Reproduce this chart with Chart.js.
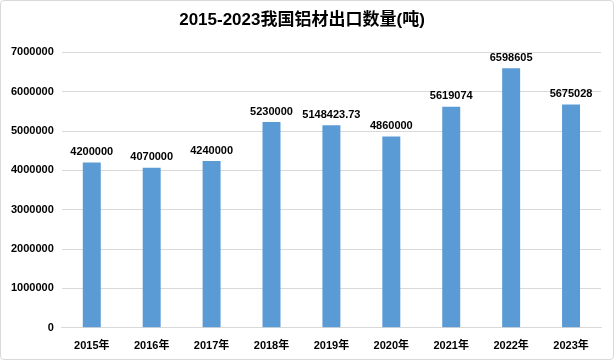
<!DOCTYPE html>
<html>
<head>
<meta charset="utf-8">
<script src="https://cdn.jsdelivr.net/npm/chart.js@4/dist/chart.umd.min.js"></script>
<style>
  html, body { margin: 0; padding: 0; background: #fff; }
  #wrap { position: relative; width: 612px; height: 358px; border: 1px solid #d9d9d9; border-radius: 4px; }
  canvas { display: block; }
</style>
</head>
<body>
<div id="wrap"><canvas id="chart" width="612" height="358"></canvas></div>
<script>
// Dados do gráfico
const anos = ['2015年', '2016年', '2017年', '2018年', '2019年', '2020年', '2021年', '2022年', '2023年'];
const exportacao = [4200000, 4070000, 4240000, 5230000, 5148423.73, 4860000, 5619074, 6598605, 5675028];
const rotulos = ['4200000', '4070000', '4240000', '5230000', '5148423.73', '4860000', '5619074', '6598605', '5675028'];

const fonte = "'Liberation Sans', 'Noto Sans CJK SC', sans-serif";

// rótulos acima das barras
const rotulosPlugin = {
  id: 'rotulos',
  afterDatasetsDraw(chart) {
    const ctx = chart.ctx;
    const meta = chart.getDatasetMeta(0);
    ctx.save();
    ctx.font = 'bold 11px ' + fonte;
    ctx.fillStyle = '#000';
    ctx.textAlign = 'center';
    ctx.textBaseline = 'bottom';
    meta.data.forEach((bar, i) => {
      ctx.fillText(rotulos[i], bar.x, bar.y - 5);
    });
    ctx.restore();
  }
};

new Chart(document.getElementById('chart'), {
  type: 'bar',
  data: {
    labels: anos,
    datasets: [{
      data: exportacao,
      backgroundColor: '#5b9bd5',
      barPercentage: 0.3,
      categoryPercentage: 1
    }]
  },
  options: {
    responsive: false,
    animation: false,
    layout: { padding: { left: 2, right: 12, top: 0, bottom: 2 } },
    plugins: {
      legend: { display: false },
      tooltip: { enabled: false },
      title: {
        display: true,
        text: '2015-2023我国铝材出口数量(吨)',
        color: '#000',
        font: { family: fonte, size: 17, weight: 'bold' },
        padding: { top: 9, bottom: 22 }
      }
    },
    scales: {
      x: {
        grid: { display: false },
        border: { color: '#d9d9d9' },
        ticks: { color: '#000', font: { family: fonte, size: 11, weight: 'bold' }, padding: 4 }
      },
      y: {
        min: 0,
        max: 7000000,
        ticks: {
          stepSize: 1000000,
          color: '#000',
          font: { family: fonte, size: 11, weight: 'bold' },
          padding: 8,
          callback: v => String(v)
        },
        grid: { color: '#d9d9d9', drawTicks: false },
        border: { display: false }
      }
    }
  },
  plugins: [rotulosPlugin]
});
</script>
</body>
</html>
